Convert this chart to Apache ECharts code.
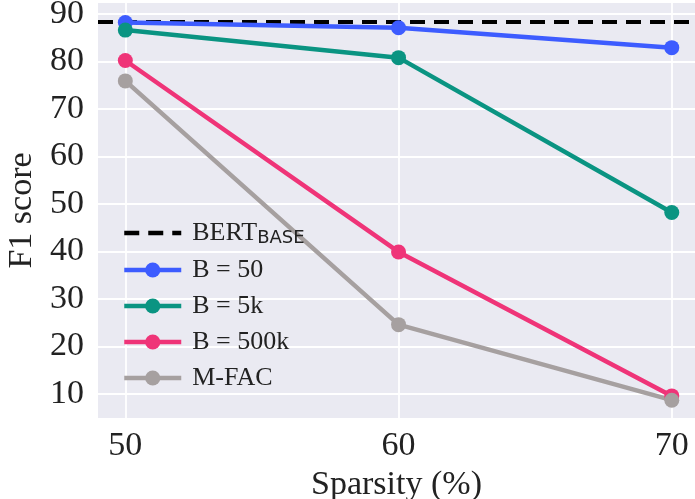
<!DOCTYPE html>
<html>
<head>
<meta charset="utf-8">
<script src="https://cdn.jsdelivr.net/npm/echarts@6/dist/echarts.min.js"></script>
<style>
  html, body { margin: 0; padding: 0; background: #ffffff; }
  #chart { width: 695px; height: 499px; }
</style>
</head>
<body>
<div id="chart"></div>
<script>
// Sparsity levels (%) and F1 scores per method
const sparsity = [50, 60, 70];
const bertBase = 88.3;
const b50 = [88.2, 87.1, 82.9];
const b5k = [86.6, 80.8, 48.2];
const b500k = [80.2, 39.9, 9.6];
const mfac = [75.9, 24.6, 8.7];

const xTicks = [50, 60, 70];
const yTicks = [10, 20, 30, 40, 50, 60, 70, 80, 90];

const xMin = 49, xMax = 70.85;
const yMin = 4.95, yMax = 92.3;

const serif = '"Liberation Serif", "Times New Roman", serif';

function pairs(ys) {
  return sparsity.map((x, i) => [x, ys[i]]);
}

function methodSeries(name, color, ys) {
  return {
    name: name,
    type: 'line',
    data: pairs(ys),
    symbol: 'circle',
    symbolSize: 15,
    lineStyle: { color: color, width: 4.5 },
    itemStyle: { color: color },
    emphasis: { disabled: true },
    z: 3
  };
}

const chart = echarts.init(document.getElementById('chart'), null, { renderer: 'canvas' });

chart.setOption({
  animation: false,
  backgroundColor: '#ffffff',
  grid: {
    left: 98, top: 3, right: 0, bottom: 81,
    containLabel: false,
    outerBoundsMode: 'none',
    show: true, backgroundColor: '#EAEAF2', borderWidth: 0
  },
  xAxis: {
    type: 'value',
    min: xMin, max: xMax,
    name: 'Sparsity (%)',
    nameLocation: 'middle',
    nameGap: 48,
    nameTextStyle: { fontFamily: serif, fontSize: 34, color: '#222222' },
    axisLine: { show: false },
    axisTick: { show: false, customValues: xTicks },
    axisLabel: {
      customValues: xTicks,
      fontFamily: serif, fontSize: 34, color: '#222222', margin: 11
    },
    splitLine: { show: true, lineStyle: { color: '#ffffff', width: 1.8 } }
  },
  yAxis: {
    type: 'value',
    min: yMin, max: yMax,
    name: 'F1 score',
    nameLocation: 'middle',
    nameGap: 53,
    nameTextStyle: { fontFamily: serif, fontSize: 34, color: '#222222' },
    axisLine: { show: false },
    axisTick: { show: false, customValues: yTicks },
    axisLabel: {
      customValues: yTicks,
      fontFamily: serif, fontSize: 34, color: '#222222', margin: 14,
      padding: [6, 0, 0, 0]
    },
    splitLine: { show: true, lineStyle: { color: '#ffffff', width: 1.8 } }
  },
  legend: {
    orient: 'vertical',
    left: 117, top: 215,
    itemWidth: 57, itemHeight: 19, itemGap: 10,
    lineStyle: { width: 4.5 },
    data: [
      { name: 'BERT', itemStyle: { color: 'rgba(0,0,0,0)', borderWidth: 0 } },
      'B = 50', 'B = 5k', 'B = 500k', 'M-FAC'
    ],
    formatter: function (name) {
      return name === 'BERT' ? '{a|BERT}{b|BASE}' : name;
    },
    textStyle: {
      fontFamily: serif, fontSize: 26, color: '#222222', padding: [0, 0, 0, 6],
      rich: {
        a: { fontFamily: serif, fontSize: 26, color: '#222222' },
        b: { fontFamily: '"DejaVu Sans", sans-serif', fontSize: 18, color: '#222222', padding: [10, 0, 0, 0] }
      }
    }
  },
  series: [
    {
      name: 'BERT',
      type: 'line',
      data: [[xMin, bertBase], [xMax, bertBase]],
      showSymbol: false,
      symbol: 'none',
      lineStyle: { color: '#000000', width: 4, type: [15, 9] },
      itemStyle: { color: '#000000' },
      emphasis: { disabled: true },
      z: 2
    },
    methodSeries('B = 50', '#3d5cff', b50),
    methodSeries('B = 5k', '#0a9482', b5k),
    methodSeries('B = 500k', '#ef3478', b500k),
    methodSeries('M-FAC', '#a6a0a0', mfac)
  ]
});
</script>
</body>
</html>
